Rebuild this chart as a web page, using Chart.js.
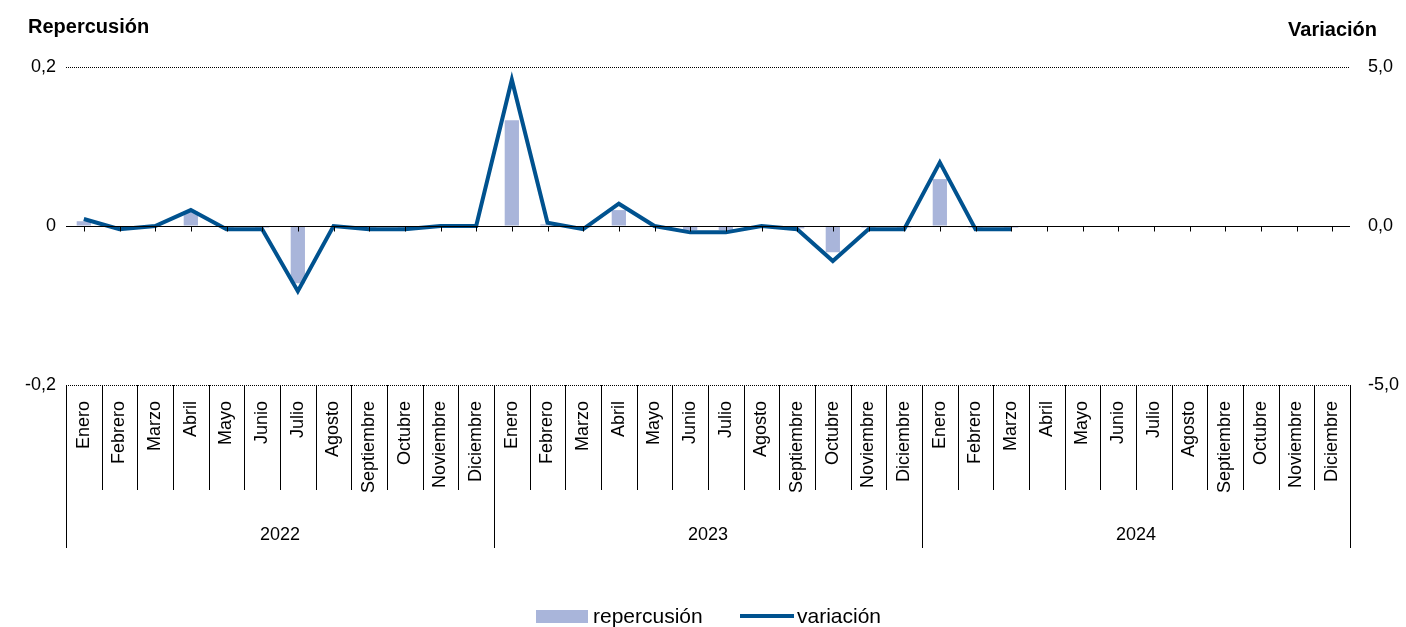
<!DOCTYPE html>
<html><head><meta charset="utf-8">
<script src="https://cdn.jsdelivr.net/npm/chart.js@4"></script>
<style>body{margin:0;background:#fff}#wrap{width:1406px;height:627px}</style>
</head><body><div id="wrap"><canvas id="c" width="1406" height="627"></canvas></div>
<script>
const meses = ['Enero','Febrero','Marzo','Abril','Mayo','Junio','Julio','Agosto','Septiembre','Octubre','Noviembre','Diciembre'];
const years = ['2022','2023','2024'];
const labels = [].concat(meses, meses, meses);
const repercusion = [0.006,0,0,0.018,-0.002,-0.002,-0.072,0,-0.002,-0.002,0,0,
  0.133,0.002,-0.002,0.02,0,-0.005,-0.005,0,-0.003,-0.033,-0.002,-0.002,
  0.059,-0.002,-0.002,null,null,null,null,null,null,null,null,null];
const variacion = [0.22,-0.1,0,0.5,-0.1,-0.1,-2.05,0,-0.1,-0.1,0,0,
  4.6,0.1,-0.1,0.7,0,-0.2,-0.2,0,-0.1,-1.1,-0.1,-0.1,
  2.0,-0.1,-0.1,null,null,null,null,null,null,null,null,null];

const font = 'Arial, "Liberation Sans", sans-serif';
const barColor = '#a9b5da', lineColor = '#00528f';

const extras = {
  id: 'extras',
  afterDraw(chart) {
    const ctx = chart.ctx, x = chart.scales.x, y = chart.scales.y, a = chart.chartArea;
    const n = labels.length, w = (a.right - a.left) / n;
    ctx.save();
    const y0 = Math.round(y.getPixelForValue(0)) + 0.5;
    ctx.strokeStyle = '#000'; ctx.lineWidth = 1;
    ctx.beginPath(); ctx.moveTo(a.left, y0); ctx.lineTo(a.right, y0);
    for (let i = 0; i < n; i++) { const px = Math.round(x.getPixelForValue(i)) + 0.5; ctx.moveTo(px, y0); ctx.lineTo(px, y0 + 5); }
    ctx.stroke();
    ctx.beginPath();
    for (let i = 0; i <= n; i++) {
      const px = Math.round(a.left + i * w) + 0.5;
      ctx.moveTo(px, a.bottom);
      ctx.lineTo(px, (i % 12 === 0) ? 548 : 490);
    }
    ctx.stroke();
    ctx.fillStyle = '#000'; ctx.font = '18px ' + font; ctx.textAlign = 'center'; ctx.textBaseline = 'middle';
    years.forEach((yr, k) => ctx.fillText(yr, a.left + (k * 12 + 6) * w, 535));
    ctx.font = 'bold 20px ' + font; ctx.textAlign = 'left';
    ctx.fillText('Repercusión', 28, 27);
    ctx.textAlign = 'right';
    ctx.fillText('Variación', 1377, 30);
    // legend
    ctx.fillStyle = barColor; ctx.fillRect(536, 610, 52, 13);
    ctx.strokeStyle = lineColor; ctx.lineWidth = 4;
    ctx.beginPath(); ctx.moveTo(740, 616); ctx.lineTo(794, 616); ctx.stroke();
    ctx.fillStyle = '#000'; ctx.font = '21px ' + font; ctx.textAlign = 'left';
    ctx.fillText('repercusión', 593, 617);
    ctx.fillText('variación', 797, 617);
    ctx.restore();
  }
};

new Chart(document.getElementById('c'), {
  data: {
    labels,
    datasets: [
      { type: 'line', label: 'variación', data: variacion, yAxisID: 'y1', borderColor: lineColor, backgroundColor: lineColor, borderWidth: 4, pointRadius: 0, tension: 0, order: 0 },
      { type: 'bar', label: 'repercusión', data: repercusion, yAxisID: 'y', backgroundColor: barColor, barPercentage: 0.4, categoryPercentage: 1, order: 1 }
    ]
  },
  options: {
    responsive: false, animation: false,
    layout: { padding: { top: 67, left: 10, right: 0, bottom: 0 } },
    plugins: { legend: { display: false }, tooltip: { enabled: false } },
    scales: {
      x: {
        offset: true,
        afterFit(s) { s.height = 242; },
        grid: { display: false },
        border: { display: false },
        ticks: { color: '#000', font: { size: 18, family: font }, minRotation: 90, maxRotation: 90, autoSkip: false, padding: 8 }
      },
      y: {
        position: 'left', min: -0.2, max: 0.2,
        afterFit(s) { s.width = 56; },
        grid: { drawTicks: false, color: (c) => c.tick.value === 0 ? 'rgba(0,0,0,0)' : '#000', lineWidth: 1 },
        border: { display: false, dash: [1, 1] },
        ticks: { stepSize: 0.2, color: '#000', font: { size: 18, family: font }, padding: 10, callback: v => Math.abs(v) < 1e-9 ? '0' : v.toFixed(1).replace('.', ',') }
      },
      y1: {
        position: 'right', min: -5, max: 5,
        afterFit(s) { s.width = 56; },
        grid: { display: false }, border: { display: false },
        ticks: { stepSize: 5, color: '#000', font: { size: 18, family: font }, padding: 10, callback: v => v.toFixed(1).replace('.', ',') }
      }
    }
  },
  plugins: [extras]
});
</script></body></html>
